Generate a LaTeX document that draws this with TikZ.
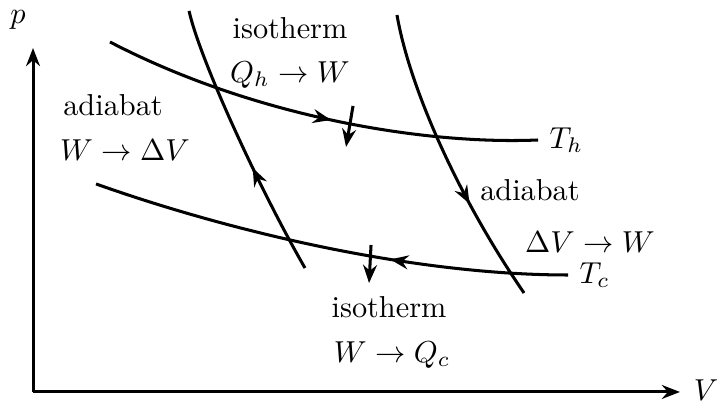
\documentclass[tikz,border=0pt]{standalone}
\usetikzlibrary{arrows.meta,decorations.markings}
\tikzset{
  flowarrow/.style={postaction={decorate},
    decoration={markings, mark=at position #1 with {\arrow{>}}}}
}
\begin{document}
\begin{tikzpicture}[>={Stealth[length=6pt,width=4.6pt,inset=2pt]}, line width=1pt]
    \useasboundingbox (-0.383,-0.139) rectangle (7.969,4.547);

    % axes
    \draw[->] (0,0) -- (0,3.99);
    \draw[->] (0,0) -- (7.505,0);
    \node (plab) at (-0.174,4.315) {\(p\)};
    \node (vlab) at (7.807,0.023) {\(V\)};

    % isotherms
    \draw[flowarrow=0.53] (0.893,4.06) .. controls (2.517,3.213) and (4.489,2.865) .. (5.858,2.923)
        node[right] (th) {\(T_h\)};
    \draw[flowarrow=0.37] (6.206,1.357) .. controls (4.489,1.357) and (2.401,1.821) .. (0.731,2.413);
    \node[right] (tc) at (6.206,1.357) {\(T_c\)};

    % adiabats
    \draw[flowarrow=0.40] (3.155,1.438) .. controls (2.633,2.343) and (1.937,3.851) .. (1.810,4.420);
    \draw[flowarrow=0.66] (4.222,4.373) .. controls (4.373,3.503) and (4.953,2.227) .. (5.696,1.148);

    % heat flow
    \draw[->] (3.712,3.318) -- (3.631,2.842);
    \draw[->] (3.921,1.705) -- (3.898,1.264);

    % labels
    \node (isoh) at (2.981,4.222) {isotherm};
    \node (qh) at (2.981,3.677) {\(Q_h \to W\)};
    \node (adl) at (0.928,3.329) {adiabat};
    \node (wdv) at (1.067,2.807) {\(W \to \Delta V\)};
    \node (adr) at (5.765,2.343) {adiabat};
    \node (dvw) at (6.461,1.740) {\(\Delta V \to W\)};
    \node (isoc) at (4.130,0.986) {isotherm};
    \node (qc) at (4.164,0.429) {\(W \to Q_c\)};
\end{tikzpicture}
\end{document}
